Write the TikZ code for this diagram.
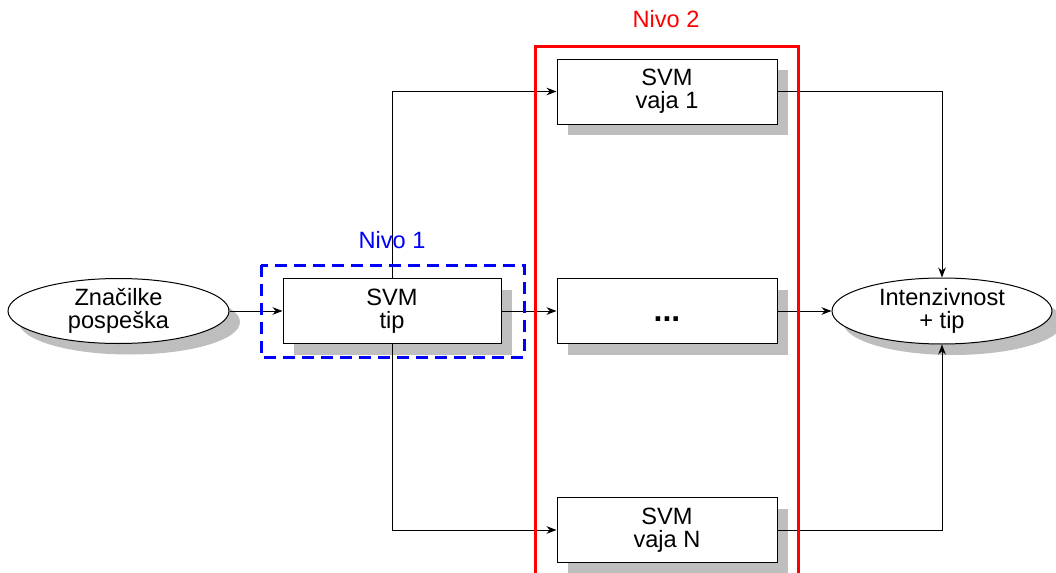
\documentclass[tikz,border=0pt]{standalone}
\usepackage{fontspec}
\setmainfont{Liberation Sans}
\usetikzlibrary{shapes.geometric,arrows.meta,shadows}
\definecolor{shadowgray}{RGB}{190,190,190}
\definecolor{nivored}{RGB}{255,0,0}
\definecolor{nivoblue}{RGB}{0,0,255}
\tikzset{
  shad/.style={drop shadow={shadow xshift=5.5pt, shadow yshift=-5.5pt, fill=shadowgray, opacity=1}},
  txt/.style={font=\fontsize{11.8}{11.6}\selectfont, align=center},
  ell/.style={ellipse, draw=black, line width=0.5pt, fill=white, shad, txt, inner sep=0pt, minimum width=110.5pt, minimum height=32.5pt},
  svmbox/.style={rectangle, draw=black, line width=0.5pt, fill=white, shad, txt, inner sep=0pt, minimum height=32.5pt},
  arr/.style={draw=black, line width=0.5pt, -{Stealth[length=5pt,width=3.8pt]}},
}
\begin{document}
\begin{tikzpicture}[x=0.5pt, y=-0.5pt]
\useasboundingbox (0,0) rectangle (1056,573);
\node[ell] (in) at (118.5,311) {Značilke\\pospeška};
\node[svmbox, minimum width=109pt] (tip) at (392,311) {SVM\\tip};
\node[svmbox, minimum width=110pt] (v1) at (667,91.5) {SVM\\vaja 1};
\node[svmbox, minimum width=110pt] (vm) at (667,311) {\raisebox{-5pt}[0pt][0pt]{\fontsize{16}{18}\selectfont\bfseries ...}};
\node[svmbox, minimum width=110pt] (vN) at (667,530) {SVM\\vaja N};
\node[ell, minimum width=110pt, minimum height=33pt] (out) at (942,311) {Intenzivnost\\+ tip};

\draw[arr] (in) -- (tip);
\draw[arr] (tip.north) |- (v1.west);
\draw[arr] (tip) -- (vm);
\draw[arr] (tip.south) |- (vN.west);
\draw[arr] (v1.east) -| (out.north);
\draw[arr] (vm) -- (out);
\draw[arr] (vN.east) -| (out.south);

\draw[nivoblue, line width=1.5pt, dash pattern=on 6pt off 3.5pt] (261,265) rectangle (524,357);
\node[txt, text=nivoblue] (n1) at (392,240) {Nivo 1};
\draw[nivored, line width=1.5pt] (535,600) -- (535,46) -- (798,46) -- (798,600);
\node[txt, text=nivored] (n2) at (666,19) {Nivo 2};
\end{tikzpicture}
\end{document}
